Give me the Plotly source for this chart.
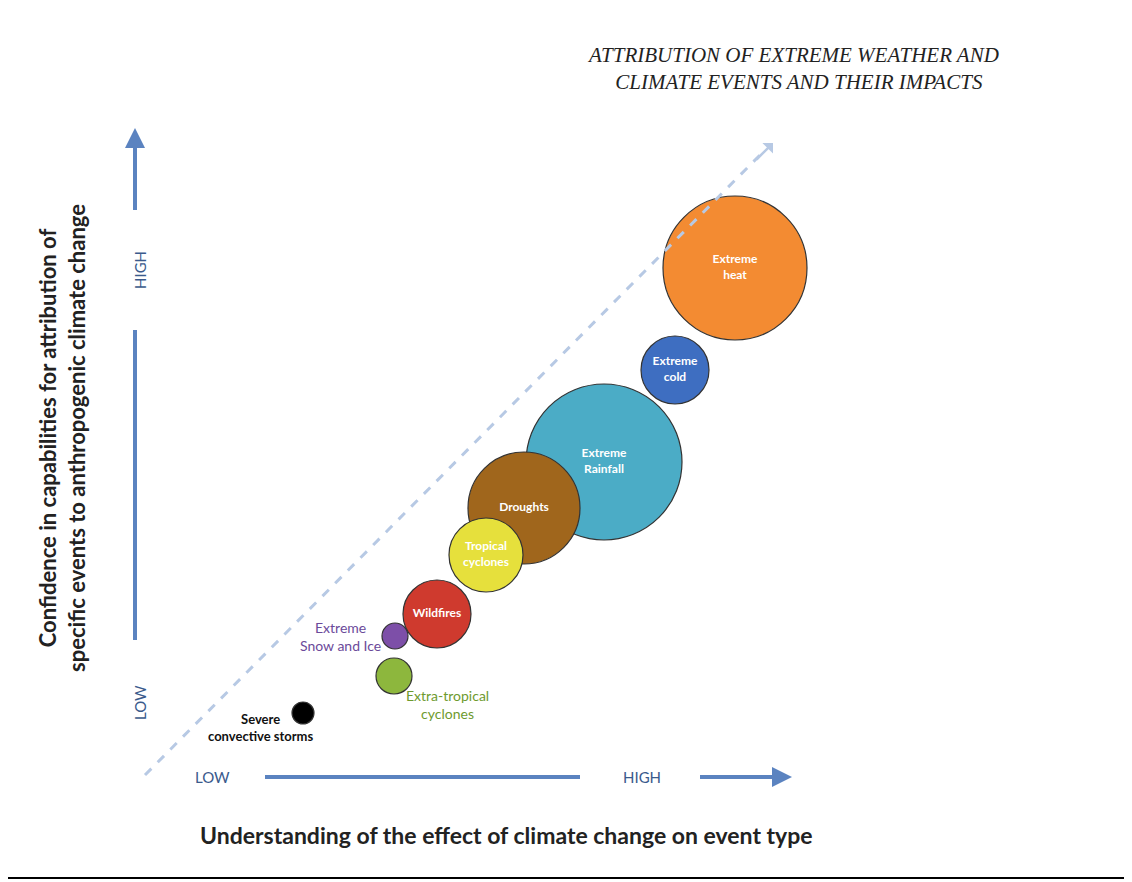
import plotly.graph_objects as go

# event bubbles (pixel space of the 1132x882 figure)
events = ["<b>Extreme<br>heat</b>", "<b>Extreme<br>cold</b>", "<b>Extreme<br>Rainfall</b>", "<b>Droughts</b>",
          "<b>Tropical<br>cyclones</b>", "<b>Wildfires</b>", "", "", ""]
ex = [735, 675, 604, 524, 486, 437, 395, 394, 303]
ey = [268, 370, 462, 508, 555, 614, 636, 676, 713]
diam = [144, 68, 156, 112, 74, 68, 26, 36, 22]
colors = ["#F38B32", "#3E6EC1", "#4BACC6", "#A0661C", "#E6E03C", "#CF3A2E",
          "#7D4FA8", "#8DB73D", "#000000"]

axis_blue = "#5B83C0"

fig = go.Figure()
fig.add_trace(go.Scatter(
    x=ex, y=ey, mode="markers+text", text=events,
    marker=dict(size=diam, sizemode="diameter", color=colors, opacity=1,
                line=dict(color="#333333", width=1.2)),
    textfont=dict(family="Lato", size=12, color="white"),
    textposition="middle center", hoverinfo="skip"))

shapes = [
    dict(type="rect", x0=3, y0=3, x1=1128, y1=878, line=dict(color="black", width=2)),
    dict(type="line", x0=135, y0=640, x1=135, y1=330, line=dict(color=axis_blue, width=4)),
    dict(type="line", x0=135, y0=210, x1=135, y1=140, line=dict(color=axis_blue, width=4)),
    dict(type="line", x0=265, y0=777, x1=580, y1=777, line=dict(color=axis_blue, width=4)),
    dict(type="line", x0=700, y0=777, x1=780, y1=777, line=dict(color=axis_blue, width=4)),
    dict(type="line", x0=145, y0=775, x1=765, y1=150,
         line=dict(color="#B7C9E4", width=3, dash="dash")),
]

anns = [
    dict(x=135, y=128, ax=135, ay=160, axref="x", ayref="y", showarrow=True,
         arrowhead=2, arrowsize=1, arrowwidth=4, arrowcolor=axis_blue, text=""),
    dict(x=792, y=777, ax=760, ay=777, axref="x", ayref="y", showarrow=True,
         arrowhead=2, arrowsize=1, arrowwidth=4, arrowcolor=axis_blue, text=""),
    dict(x=773, y=143, ax=755, ay=161, axref="x", ayref="y", showarrow=True,
         arrowhead=1, arrowsize=1, arrowwidth=2.5, arrowcolor="#B7C9E4", text=""),
]

def txt(x, y, s, size=14, color="#3A5A8C", angle=0, family="Lato", align="center", **kw):
    anns.append(dict(x=x, y=y, text=s, showarrow=False, textangle=angle, align=align,
                     font=dict(family=family, size=size, color=color), **kw))

txt(793, 68, "<i>ATTRIBUTION OF EXTREME WEATHER AND<br>     CLIMATE EVENTS AND THEIR IMPACTS</i>",
    size=21, color="#222222", family="Liberation Serif", align="left")
txt(140, 270, "HIGH", size=15, angle=-90)
txt(140, 703, "LOW", size=15, angle=-90)
txt(212, 777, "LOW", size=15)
txt(642, 777, "HIGH", size=15)
txt(506, 835, "<b>Understanding of the effect of climate change on event type</b>",
    size=23, color="#222222")
txt(62, 438, "<b>Confidence in capabilities for attribution of<br>specific events to anthropogenic climate change</b>",
    size=22, color="#222222", angle=-90)
txt(340, 636, "Extreme<br>Snow and Ice", size=14, color="#6B4A9A")
txt(447, 704, "Extra-tropical<br>cyclones", size=14, color="#6E9A2E")
txt(260, 727, "<b>Severe<br>convective storms</b>", size=13, color="#111111")

fig.update_layout(
    width=1132, height=882, margin=dict(l=0, r=0, t=0, b=0),
    paper_bgcolor="white", plot_bgcolor="white", showlegend=False,
    # page has an 8px body offset, so shift ranges to keep pixel coords aligned
    xaxis=dict(range=[8, 1140], visible=False, fixedrange=True),
    yaxis=dict(range=[890, 8], visible=False, fixedrange=True),
    shapes=shapes, annotations=anns)

fig.write_html("out.html")
